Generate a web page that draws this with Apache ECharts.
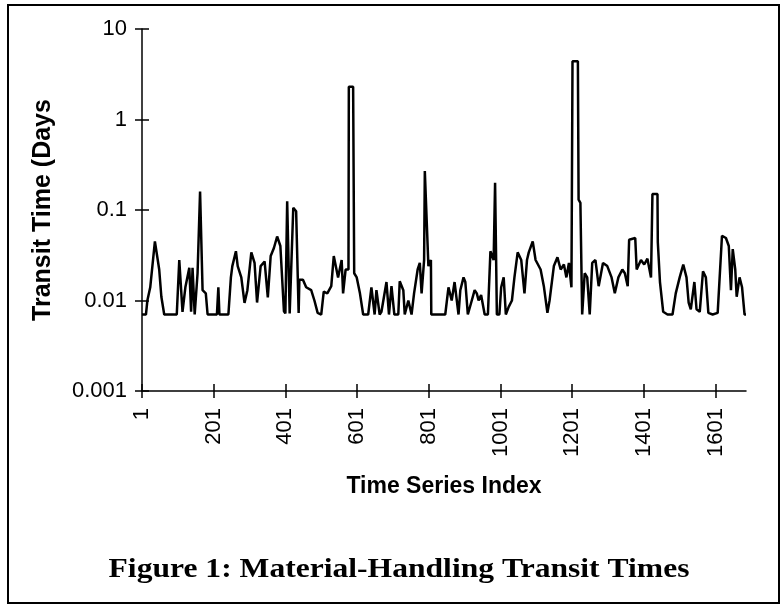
<!DOCTYPE html>
<html>
<head>
<meta charset="utf-8">
<title>Figure 1: Material-Handling Transit Times</title>
<script src="https://cdn.jsdelivr.net/npm/echarts@6.0.0/dist/echarts.min.js"></script>
<style>
html, body { margin: 0; padding: 0; background: #fff; }
#transitChart { width: 784px; height: 607px; }
</style>
</head>
<body>
<div id="transitChart"></div>
<script>
// [time series index, transit time (days)], breakpoints of the trace
var transitSeries = [
  [1, 0.007], [12, 0.007], [16, 0.010], [24, 0.014], [37, 0.045], [42, 0.045], [49, 0.022], [55, 0.011], [63, 0.007],
  [98, 0.007], [105, 0.028], [114, 0.0075], [122, 0.014], [133, 0.023], [138, 0.0075], [142, 0.023], [148, 0.007],
  [156, 0.020], [163, 0.16], [167, 0.16], [170, 0.013], [179, 0.012], [184, 0.007],
  [210, 0.007], [214, 0.014], [217, 0.007], [242, 0.007], [249, 0.018], [253, 0.024], [263, 0.035],
  [268, 0.024], [278, 0.018], [287, 0.0094], [295, 0.013], [306, 0.034], [315, 0.026], [322, 0.0095], [332, 0.024],
  [343, 0.027], [352, 0.0108], [360, 0.031], [369, 0.038], [378, 0.051], [387, 0.040], [397, 0.0076], [401, 0.0072],
  [406, 0.125], [413, 0.0072], [418, 0.0072], [423, 0.106], [431, 0.097], [438, 0.0073], [440, 0.017], [450, 0.017],
  [459, 0.014], [473, 0.013], [482, 0.010], [491, 0.0073], [501, 0.007], [508, 0.0125], [518, 0.012], [529, 0.0144], [536, 0.031],
  [539, 0.032], [548, 0.018], [558, 0.028], [562, 0.012], [569, 0.022], [577, 0.022], [578, 2.3], [590, 2.3], [593, 0.020],
  [600, 0.018], [609, 0.012], [618, 0.007], [632, 0.007], [641, 0.014], [650, 0.007], [655, 0.013], [664, 0.007],
  [669, 0.0075], [683, 0.016], [690, 0.007], [697, 0.0144], [705, 0.007], [716, 0.007], [720, 0.0163], [730, 0.013],
  [734, 0.007], [744, 0.010], [753, 0.007], [760, 0.012], [770, 0.022], [776, 0.026], [781, 0.012], [788, 0.028],
  [790, 0.27], [795, 0.27], [800, 0.024], [807, 0.028],
  [808, 0.007], [847, 0.007], [856, 0.014], [865, 0.010], [873, 0.016], [884, 0.007], [889, 0.013], [898, 0.018],
  [903, 0.016], [910, 0.007], [921, 0.010], [929, 0.013], [935, 0.012], [940, 0.010], [947, 0.0115], [957, 0.007],
  [966, 0.007], [973, 0.035], [982, 0.028], [986, 0.2], [990, 0.2], [991, 0.007], [998, 0.007], [1003, 0.014],
  [1010, 0.018], [1016, 0.007], [1024, 0.0085], [1033, 0.010], [1040, 0.018], [1049, 0.034], [1059, 0.028], [1068, 0.012], [1075, 0.028],
  [1080, 0.034], [1091, 0.045], [1099, 0.028], [1113, 0.022], [1122, 0.0144], [1132, 0.0073], [1138, 0.010], [1150, 0.024],
  [1160, 0.030], [1169, 0.022], [1178, 0.025], [1185, 0.018], [1192, 0.026], [1199, 0.014], [1202, 4.4], [1217, 4.4],
  [1219, 0.13], [1224, 0.12], [1229, 0.007], [1236, 0.020], [1243, 0.018], [1250, 0.007], [1257, 0.026], [1266, 0.028],
  [1275, 0.0144], [1287, 0.026], [1299, 0.024], [1311, 0.018], [1320, 0.012], [1330, 0.018], [1341, 0.022], [1348, 0.020],
  [1356, 0.0144], [1360, 0.047], [1377, 0.049], [1381, 0.022], [1393, 0.028], [1402, 0.025], [1411, 0.029], [1421, 0.018],
  [1424, 0.018], [1425, 0.15], [1439, 0.15], [1440, 0.044], [1446, 0.016], [1455, 0.0075], [1467, 0.007], [1481, 0.007],
  [1490, 0.012], [1501, 0.018], [1511, 0.025], [1520, 0.018], [1526, 0.0095], [1532, 0.008], [1542, 0.016], [1548, 0.008],
  [1557, 0.0075], [1566, 0.021], [1574, 0.018], [1581, 0.0073], [1593, 0.007], [1607, 0.0073], [1619, 0.052], [1630, 0.049],
  [1638, 0.040], [1644, 0.013], [1649, 0.037], [1656, 0.022], [1660, 0.011], [1668, 0.018], [1675, 0.014], [1682, 0.007], [1686, 0.007]
];
var xTickValues = [1, 201, 401, 601, 801, 1001, 1201, 1401, 1601];
var yTickLabels = ['0.001', '0.01', '0.1', '1', '10'];

var chart = echarts.init(document.getElementById('transitChart'));

var sans = 'Arial, "Liberation Sans", sans-serif';
var black = { color: '#000', width: 1.5 };

var option = {
  animation: false,
  backgroundColor: '#fff',
  grid: { left: 142, right: 38, top: 29, bottom: 216, outerBoundsMode: 'none' },
  xAxis: [
    {
      type: 'value', position: 'bottom', min: 1, max: 1686,
      axisLine: { lineStyle: black },
      axisTick: { customValues: xTickValues, length: 7, lineStyle: black },
      axisLabel: {
        customValues: xTickValues, rotate: 90, margin: 17, color: '#000', fontFamily: sans, fontSize: 22,
        formatter: function (v) { return String(v); }
      },
      splitLine: { show: false },
      name: 'Time Series Index', nameLocation: 'middle', nameGap: 84,
      nameTextStyle: { color: '#000', fontFamily: sans, fontSize: 23, fontWeight: 'bold' }
    },
    {
      type: 'value', position: 'bottom', min: 1, max: 1686,
      axisLine: { show: false },
      axisTick: { customValues: xTickValues, inside: true, length: 7, lineStyle: black },
      axisLabel: { show: false },
      splitLine: { show: false }
    }
  ],
  yAxis: [
    {
      type: 'log', logBase: 10, position: 'left', min: 0.001, max: 10,
      axisLine: { show: true, lineStyle: black },
      axisTick: { show: true, length: 7, lineStyle: black },
      axisLabel: {
        margin: 15, color: '#000', fontFamily: sans, fontSize: 22,
        formatter: function (v) { return yTickLabels[Math.round(Math.log10(v)) + 3]; }
      },
      splitLine: { show: false },
      name: 'Transit Time (Days', nameLocation: 'middle', nameGap: 86,
      nameTextStyle: { color: '#000', fontFamily: sans, fontSize: 25, fontWeight: 'bold' }
    },
    {
      type: 'log', logBase: 10, position: 'left', min: 0.001, max: 10,
      axisLine: { show: false },
      axisTick: { show: true, inside: true, length: 7, lineStyle: black },
      axisLabel: { show: false },
      splitLine: { show: false }
    }
  ],
  graphic: [
    {
      type: 'rect', silent: true,
      shape: { x: 8, y: 5, width: 771, height: 598 },
      style: { fill: 'none', stroke: '#000', lineWidth: 2 }
    },
    {
      // caption glyphs in the figure are wider than the font, so stretch horizontally
      type: 'text', silent: true, x: 399, y: 570, scaleX: 1.17,
      style: {
        text: 'Figure 1: Material-Handling Transit Times',
        font: 'bold 27px "Times New Roman", "Liberation Serif", serif',
        fill: '#000', align: 'center', verticalAlign: 'middle'
      }
    }
  ],
  series: [
    {
      name: 'Transit Time',
      type: 'line',
      xAxisIndex: 0,
      yAxisIndex: 0,
      data: transitSeries,
      showSymbol: false,
      lineStyle: { color: '#000', width: 2.5 }
    }
  ]
};

chart.setOption(option);
</script>
</body>
</html>
